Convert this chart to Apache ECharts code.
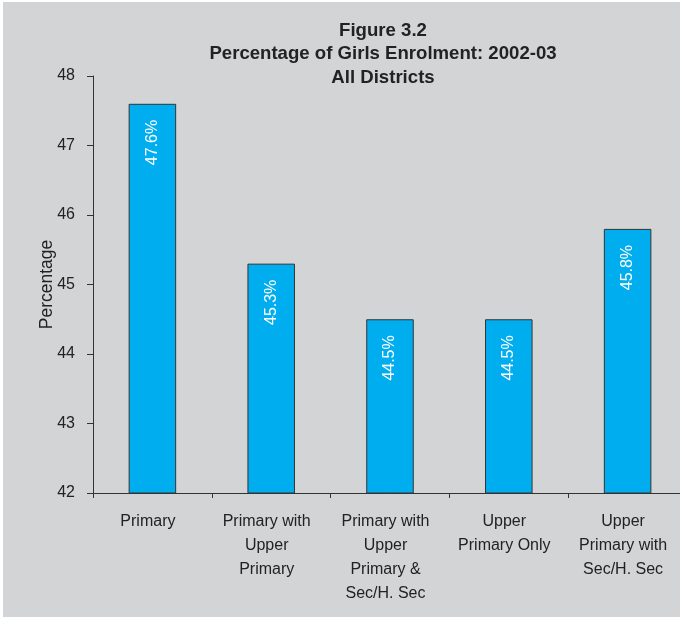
<!DOCTYPE html>
<html><head><meta charset="utf-8">
<script src="https://cdn.jsdelivr.net/npm/echarts@6/dist/echarts.min.js"></script>
<style>html,body{margin:0;padding:0;background:#fff;}#c{position:absolute;left:3px;top:2px;width:677px;height:615px;}</style>
</head><body><div id="c"></div>
<script>
const categories = ["Primary", "Primary with\nUpper\nPrimary", "Primary with\nUpper\nPrimary &\nSec/H. Sec", "Upper\nPrimary Only", "Upper\nPrimary with\nSec/H. Sec"];
const values = [47.6, 45.3, 44.5, 44.5, 45.8];
const titleLines = ["Figure 3.2", "Percentage of Girls Enrolment: 2002-03", "All Districts"];
const yAxisName = "Percentage";

const chart = echarts.init(document.getElementById('c'));
const font = 'Liberation Sans, Arial, sans-serif';
chart.setOption({
  backgroundColor: '#d3d4d6',
  animation: false,
  title: {
    text: titleLines.join('\n'),
    left: 375, top: 12, textAlign: 'center',
    textStyle: {fontFamily: font, fontSize: 18.6, fontWeight: 'bold', color: '#222', lineHeight: 23.5}
  },
  grid: {left: 90, top: 74, width: 594, height: 417, outerBoundsMode: 'none'},
  xAxis: {
    type: 'category', data: categories,
    axisLine: {lineStyle: {color: '#333', width: 1}},
    axisTick: {show: true, length: 5, lineStyle: {color: '#333'}},
    axisLabel: {fontFamily: font, fontSize: 16, color: '#222', lineHeight: 24, margin: 17, interval: 0, padding: [0, 9, 0, 0]}
  },
  yAxis: {
    type: 'value', min: 42, max: 48, interval: 1,
    name: yAxisName, nameLocation: 'middle', nameGap: 37, nameRotate: 90, nameMoveOverlap: false,
    nameTextStyle: {fontFamily: font, fontSize: 17.5, color: '#222'},
    axisLine: {show: true, lineStyle: {color: '#333', width: 1}},
    axisTick: {show: true, length: 6, lineStyle: {color: '#333'}},
    axisLabel: {fontFamily: font, fontSize: 16, color: '#222', margin: 18},
    splitLine: {show: false}
  },
  series: [{
    type: 'bar', data: values, barWidth: '40%',
    itemStyle: {color: '#00aeef', borderColor: '#333', borderWidth: 1},
    label: {
      show: true, position: 'insideTop', rotate: 90, align: 'right', verticalAlign: 'middle',
      distance: 16, color: '#fff', fontFamily: font, fontSize: 16,
      formatter: p => p.value.toFixed(1) + '%'
    }
  }]
});
</script></body></html>
